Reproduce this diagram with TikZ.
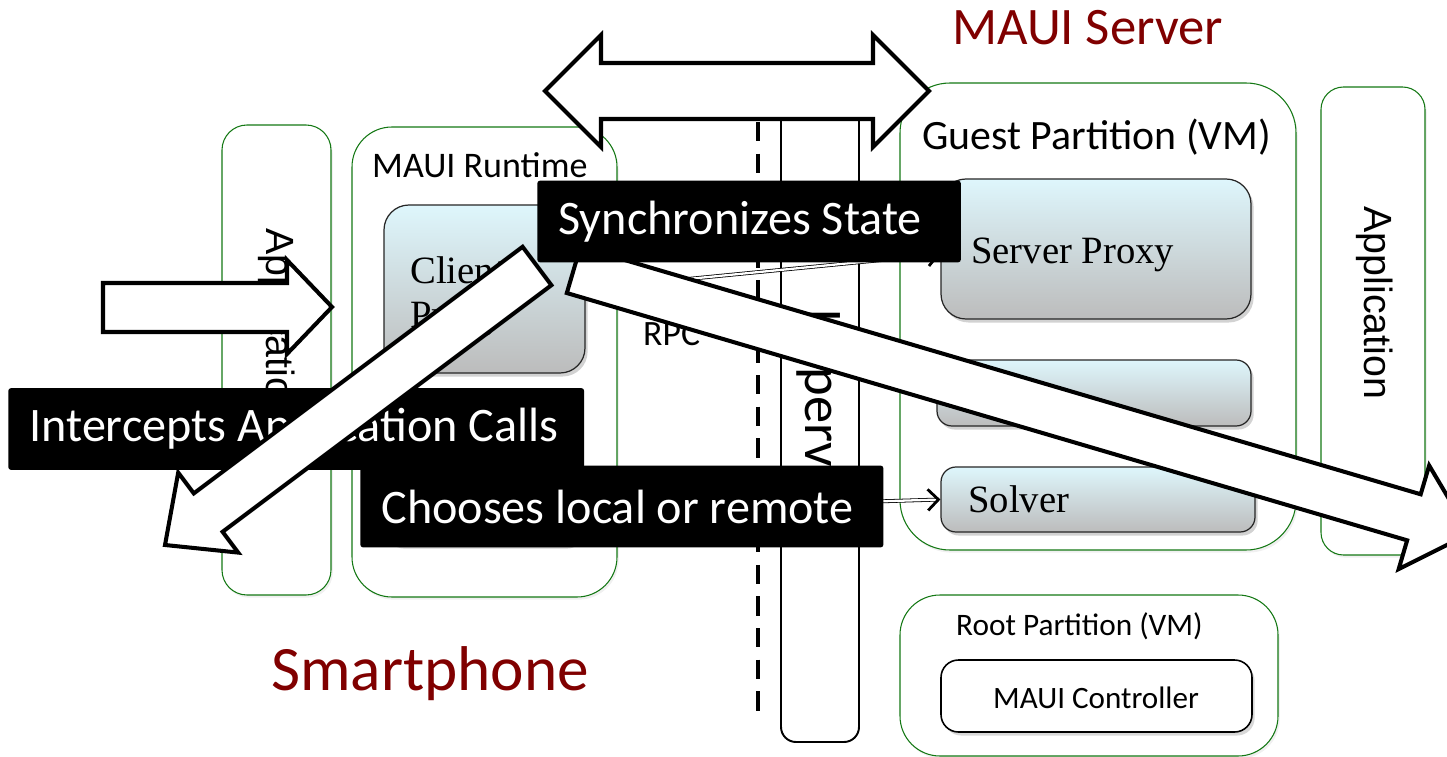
\documentclass[tikz,border=0pt]{standalone}
\usepackage{fontspec}
\setmainfont{Carlito}
\newfontfamily\proxyfont{Liberation Serif}
\newfontfamily\appfont{Liberation Sans}
\usetikzlibrary{arrows.meta,fit,shadows}

\definecolor{mauigreen}{RGB}{20,120,20}
\definecolor{mauired}{RGB}{128,0,0}
\definecolor{proxytop}{RGB}{222,246,252}
\definecolor{proxybot}{RGB}{188,188,188}

\tikzset{
  partbox/.style={draw=mauigreen, line width=0.6pt, fill=white, inner sep=0pt,
    drop shadow={opacity=0.12, shadow xshift=1pt, shadow yshift=-1.5pt}},
  gradbox/.style={draw=black!85, line width=0.7pt, top color=proxytop, bottom color=proxybot,
    inner sep=0pt, rounded corners=0.3cm,
    drop shadow={opacity=0.35, shadow xshift=1.5pt, shadow yshift=-2pt}},
  callout/.style={fill=black, text=white, inner xsep=12pt, inner ysep=0pt, minimum height=46.5pt,
    align=flush left, rounded corners=1.5pt, font=\fontsize{27.4}{32}\selectfont},
  blockarrow/.style={draw=black, fill=white, line width=2.3pt},
  rpclink/.style={draw=black, double=white, double distance=1.3pt, line width=0.45pt,
    -{Straight Barb[length=6pt,width=12pt,line width=1.6pt]}},
}

\begin{document}
\begin{tikzpicture}[x=0.02cm, y=-0.02cm]
    \useasboundingbox (0,0) rectangle (1447,757);
    \clip (0,0) rectangle (1447,757);

    \node[anchor=base west, text=mauired, font=\fontsize{30}{36}\selectfont] (srvtitle) at (946,45) {MAUI Server};
    \node[anchor=base west, text=mauired, font=\fontsize{36}{43}\selectfont] (phonetitle) at (265,690) {Smartphone};

    % smartphone
    \node[partbox, rounded corners=0.5cm, fit={(222,125) (331,595)}] (appl) {};
    \node[rotate=-90, anchor=base, font=\appfont\fontsize{22.4}{27}\selectfont] at (266,325) {Application};
    \node[partbox, rounded corners=0.8cm, fit={(352,127) (617,597)}] (runtime) {};
    \node[anchor=base west, font=\fontsize{20.5}{25}\selectfont] at (366,177) {MAUI Runtime};
    \node[gradbox, rounded corners=0.5cm, fit={(384,205) (585,373)}] (cproxy) {};
    \node[anchor=north west, align=left, inner sep=0pt, font=\proxyfont\fontsize{22}{25.5}\selectfont] at (410,256) {Client\\Proxy};
    \node[gradbox, fit={(386,476) (580,545)}] (csolver) {};

    % hypervisor
    \draw[line width=1.8pt, dash pattern=on 11pt off 7pt] (758,122) -- (758,715);
    \node[draw, line width=1.1pt, fill=white, rounded corners=0.3cm, inner sep=0pt, fit={(781,100) (859,742)}] (hyperv) {};
    \node[rotate=-90, anchor=base, font=\fontsize{31}{37}\selectfont] at (805,429) {Hypervisor};
    \node[anchor=base west, font=\fontsize{20.3}{24}\selectfont] (rpc) at (637,345) {RPC};

    % server
    \node[partbox, rounded corners=1cm, fit={(900,83) (1296,550)}] (guest) {};
    \node[anchor=base west, font=\fontsize{23.8}{28}\selectfont] at (916,150) {Guest Partition (VM)};
    \node[gradbox, rounded corners=0.5cm, fit={(941,179) (1251,319)}] (sproxy) {};
    \node[anchor=base west, font=\proxyfont\fontsize{22}{26}\selectfont] at (965,263) {Server Proxy};
    \node[gradbox, fit={(937,360) (1251,426)}] (smid) {};
    \node[gradbox, fit={(941,467) (1255,532)}] (ssolver) {};
    \node[anchor=base west, font=\proxyfont\fontsize{22}{26}\selectfont] at (962,512) {Solver};

    \node[partbox, rounded corners=0.8cm, fit={(900,595) (1278,756)}] (rootvm) {};
    \node[anchor=base west, font=\fontsize{17.8}{21}\selectfont] at (950,635) {Root Partition (VM)};
    \node[draw, line width=0.9pt, fill=white, rounded corners=0.35cm, inner sep=0pt,
      drop shadow={opacity=0.3, shadow xshift=1.5pt, shadow yshift=-2pt},
      fit={(941,660) (1252,732)}] (ctrl) {};
    \node[anchor=base, font=\fontsize{17.7}{21}\selectfont] at (1096,708) {MAUI Controller};

    \node[partbox, rounded corners=0.45cm, fit={(1321,87) (1425,555)}] (appr) {};
    \node[rotate=-90, anchor=base, font=\appfont\fontsize{22.4}{27}\selectfont] at (1364,303) {Application};

    \draw[rpclink] (cproxy.east) -- ([yshift=-3pt]sproxy.west);
    \draw[rpclink] (csolver.east) -- (ssolver.west);

    % callouts
    \node[callout, text width=303.7pt, anchor=west] (intercept) at (8,429) {Intercepts Application Calls};
    \begin{scope}[shift={(537,266)}, rotate=-143.13]
        \draw[blockarrow] (0,-24) -- (411,-24) -- (411,-50) -- (465,0) -- (411,50) -- (411,24) -- (0,24) -- cycle;
    \end{scope}
    \begin{scope}[shift={(573.6,270)}, rotate=-16.4]
        \draw[blockarrow] (0,-24) -- (876,-24) -- (876,-54) -- (934,0) -- (876,54) -- (876,24) -- (0,24) -- cycle;
    \end{scope}
    \node[callout, text width=217pt, anchor=west] (sync) at (537,221.5) {Synchronizes State};
    \node[callout, text width=273.7pt, anchor=west] (choose) at (360,506.5) {Chooses local or remote};

    \draw[blockarrow] (545,91) -- (601,35) -- (601,63) -- (873,63) -- (873,35) -- (929,91)
        -- (873,147) -- (873,119) -- (601,119) -- (601,147) -- cycle;
    \draw[blockarrow] (103,283) -- (287,283) -- (287,260) -- (332,307) -- (287,354) -- (287,332) -- (103,332) -- cycle;
\end{tikzpicture}
\end{document}
